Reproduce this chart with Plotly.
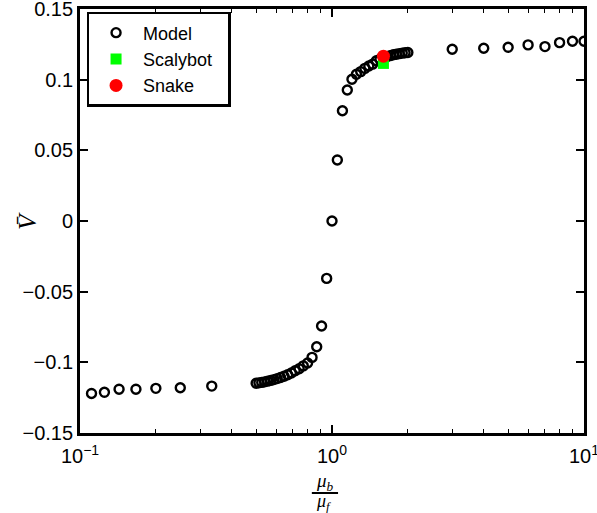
import plotly.graph_objects as go

# ---- data ----
model_mu = [0.1111, 0.125, 0.1429, 0.1667, 0.2, 0.25, 0.3333,
            0.5, 0.5128, 0.5263, 0.5405, 0.5556, 0.5714, 0.5882, 0.6061, 0.625, 0.6452,
            0.6667, 0.6897, 0.7143, 0.7407, 0.7692, 0.8, 0.8333, 0.8696, 0.9091, 0.9524,
            1.0,
            1.05, 1.1, 1.15, 1.2, 1.25, 1.3, 1.35, 1.4, 1.45, 1.5,
            1.55, 1.6, 1.65, 1.7, 1.75, 1.8, 1.85, 1.9, 1.95, 2.0,
            3, 4, 5, 6, 7, 8, 9, 10]
model_v = [-0.122, -0.1212, -0.119, -0.119, -0.1184, -0.118, -0.1168,
           -0.1148, -0.1145, -0.1142, -0.1138, -0.1133, -0.1128, -0.1122, -0.1115, -0.1107, -0.1098,
           -0.1088, -0.1075, -0.106, -0.1045, -0.1025, -0.1005, -0.0965, -0.089, -0.0743, -0.0406,
           0.0,
           0.0432, 0.078, 0.0927, 0.1003, 0.1038, 0.1057, 0.108, 0.1097, 0.111, 0.1134,
           0.1145, 0.1155, 0.1163, 0.117, 0.1176, 0.118, 0.1184, 0.1188, 0.119, 0.1192,
           0.1215, 0.1222, 0.1229, 0.1246, 0.1234, 0.1262, 0.1272, 0.1272]
scalybot_mu = [1.6]
scalybot_v = [0.1115]
snake_mu = [1.6]
snake_v = [0.1166]

x_tickvals = [0.1, 1, 10]
x_ticktext = ["10<sup>−1</sup>", "10<sup>0</sup>", "10<sup>1</sup>"]
y_tickvals = [-0.15, -0.1, -0.05, 0, 0.05, 0.1, 0.15]
y_ticktext = ["−0.15", "−0.1", "−0.05", "0", "0.05", "0.1", "0.15"]

FONT = "Liberation Sans, Arial, sans-serif"
SERIF = "Liberation Serif, Times New Roman, serif"
PAD = "\u00a0\u00a0"

fig = go.Figure()
fig.add_trace(go.Scatter(x=model_mu, y=model_v, mode="markers", name="Model",
                         marker=dict(symbol="circle-open", size=9, color="black",
                                     line=dict(width=2.4, color="black"))))
fig.add_trace(go.Scatter(x=scalybot_mu, y=scalybot_v, mode="markers", name="Scalybot" + PAD,
                         marker=dict(symbol="square", size=11, color="#00ff00",
                                     line=dict(width=0))))
fig.add_trace(go.Scatter(x=snake_mu, y=snake_v, mode="markers", name="Snake",
                         marker=dict(symbol="circle", size=13, color="#ff0000",
                                     line=dict(width=0))))

fig.update_layout(
    width=597, height=513,
    margin=dict(l=80, r=13, t=9, b=80),
    paper_bgcolor="white", plot_bgcolor="white",
    font=dict(family=FONT, size=20, color="black"),
    showlegend=True,
    legend=dict(x=0.013, y=0.993, xanchor="left", yanchor="top",
                bgcolor="white", bordercolor="black", borderwidth=2.5,
                font=dict(family=FONT, size=18, color="black"),
                tracegroupgap=0, itemwidth=44),
)

fig.update_xaxes(type="log", range=[-1, 1], tickvals=x_tickvals, ticktext=x_ticktext,
                 ticks="inside", ticklen=8, tickwidth=1.5, tickcolor="black",
                 showline=True, linecolor="black", linewidth=2.8, mirror="ticks",
                 showgrid=False, zeroline=False, automargin=False,
                 ticklabeloverflow="allow", ticklabelstandoff=3,
                 minor=dict(ticks="inside", ticklen=4, tickwidth=1.3, tickcolor="black",
                            dtick="D1", showgrid=False),
                 tickfont=dict(family=FONT, size=20, color="black"))
fig.update_yaxes(range=[-0.15, 0.15], tickvals=y_tickvals, ticktext=y_ticktext,
                 ticks="inside", ticklen=8, tickwidth=1.5, tickcolor="black",
                 showline=True, linecolor="black", linewidth=2.8, mirror="ticks",
                 showgrid=False, zeroline=False, automargin=False,
                 ticklabeloverflow="allow",
                 tickfont=dict(family=FONT, size=20, color="black"))

# y-axis label V-bar (rotated)
fig.add_annotation(xref="paper", yref="paper", x=-0.105, y=0.5, showarrow=False,
                   text="<i>V̄</i>", textangle=-90, xanchor="center", yanchor="middle",
                   font=dict(family=SERIF, size=25, color="black"))

# x-axis label: fraction mu_b / mu_f
fig.add_annotation(xref="paper", yref="paper", x=0.486, y=-0.115, showarrow=False,
                   text="<i>μ<sub>b</sub></i>", xanchor="center", yanchor="middle",
                   font=dict(family=SERIF, size=19, color="black"))
fig.add_annotation(xref="paper", yref="paper", x=0.484, y=-0.164, showarrow=False,
                   text="<i>μ<sub>f</sub></i>", xanchor="center", yanchor="middle",
                   font=dict(family=SERIF, size=18, color="black"))
fig.add_shape(type="line", xref="paper", yref="paper", x0=0.460, x1=0.512,
              y0=-0.1415, y1=-0.1415, line=dict(color="black", width=2))

fig.write_html("out.html")
